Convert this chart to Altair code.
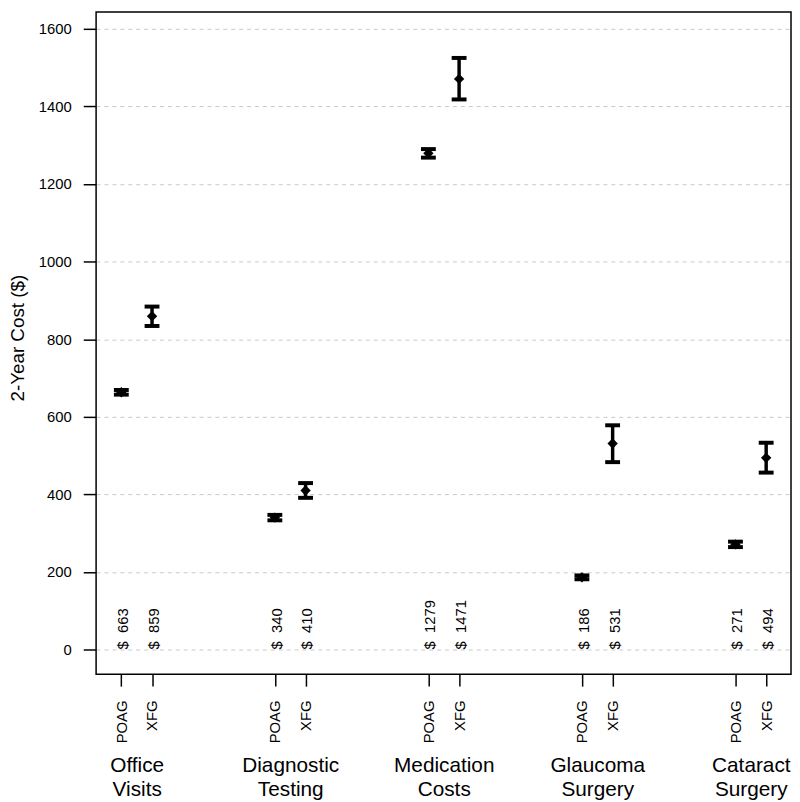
import altair as alt
import pandas as pd

# ---- data ----
groups = ["Office Visits", "Diagnostic Testing", "Medication Costs", "Glaucoma Surgery", "Cataract Surgery"]
series = ["POAG", "XFG"]

poag_mean = [663, 340, 1279, 186, 271]
poag_lo = [657, 333, 1268, 181, 264]
poag_hi = [669, 347, 1290, 191, 278]

xfg_mean = [859, 410, 1471, 531, 494]
xfg_lo = [834, 391, 1418, 483, 456]
xfg_hi = [884, 429, 1525, 578, 533]

y_ticks = [0, 200, 400, 600, 800, 1000, 1200, 1400, 1600]

# ---- build table ----
OFFSET = 0.1
rows = []
for i, g in enumerate(groups):
    gi = i + 1
    for s, m, lo, hi, off in [
        (series[0], poag_mean[i], poag_lo[i], poag_hi[i], -OFFSET),
        (series[1], xfg_mean[i], xfg_lo[i], xfg_hi[i], OFFSET),
    ]:
        rows.append({
            "group": g, "gi": gi, "series": s, "xpos": gi + off,
            "mean": m, "lo": lo, "hi": hi,
            "label": "$\u00a0\u00a0" + str(m),
        })
df = pd.DataFrame(rows)
gdf = pd.DataFrame({"gi": list(range(1, len(groups) + 1)), "group": groups})

FONT = "Liberation Sans"

xscale = alt.Scale(domain=[0.7357, 5.2618], nice=False, zero=False)
yscale = alt.Scale(domain=[-63.8, 1643.4], nice=False, zero=False)

series_expr = f"(datum.value - floor(datum.value)) > 0.5 ? '{series[0]}' : '{series[1]}'"
group_expr = ""
for i, g in enumerate(groups):
    group_expr += f"datum.value == {i + 1} ? split('{g}', ' ') : "
group_expr += "''"

xaxis = alt.Axis(
    values=list(df["xpos"]), labelExpr=series_expr, title=None,
    labelAngle=270, labelAlign="right", labelBaseline="middle",
    labelFontSize=15, labelFontWeight="normal", labelPadding=14,
    tickSize=12, tickWidth=1.5,
    tickColor="black", domain=False, grid=False, labelOverlap=False,
    labelFlush=False, orient="bottom",
)
gaxis = alt.Axis(
    values=list(gdf["gi"]), labelExpr=group_expr, title=None,
    labelAngle=0, labelAlign="center", labelBaseline="top",
    labelFontSize=21, labelLineHeight=24, labelPadding=81,
    ticks=False, tickSize=0, domain=False, grid=False,
    labelOverlap=False, labelFlush=False, orient="bottom",
)
yaxis = alt.Axis(
    values=y_ticks, format="d", title="2-Year Cost ($)", grid=True,
    gridDash=[4, 4], gridColor="#c8c8c8", gridWidth=1,
    domain=False, tickColor="black", tickSize=13, tickWidth=1.5,
    labelFontSize=15, labelPadding=12, titleFontSize=19,
    titleFontWeight="normal", titleX=-79, titleY=329,
    titleAngle=270, titleAlign="center", titleBaseline="middle",
)

x_main = alt.X("xpos:Q", scale=xscale, axis=xaxis)
x_plain = alt.X("xpos:Q", scale=xscale)

bars = alt.Chart(df).mark_rule(color="black", strokeWidth=3.5).encode(
    x=x_main, y=alt.Y("lo:Q", scale=yscale, axis=yaxis), y2="hi:Q"
)
cap_lo = alt.Chart(df).mark_tick(orient="horizontal", color="black", size=15, thickness=4, opacity=1).encode(
    x=x_plain, y=alt.Y("lo:Q", scale=yscale)
)
cap_hi = alt.Chart(df).mark_tick(orient="horizontal", color="black", size=15, thickness=4, opacity=1).encode(
    x=x_plain, y=alt.Y("hi:Q", scale=yscale)
)
points = alt.Chart(df).mark_point(shape="diamond", filled=True, color="black", size=110, opacity=1).encode(
    x=x_plain, y=alt.Y("mean:Q", scale=yscale)
)
labels = alt.Chart(df).mark_text(
    angle=270, align="left", baseline="middle", fontSize=15, font=FONT,
    color="black", dy=2,
).encode(x=x_plain, y=alt.datum(0, scale=yscale), text="label:N")

group_layer = alt.Chart(gdf).mark_point(opacity=0).encode(
    x=alt.X("gi:Q", scale=xscale, axis=gaxis)
)

main = alt.layer(bars, cap_lo, cap_hi, points, labels)

chart = (
    alt.layer(main, group_layer)
    .resolve_axis(x="independent")
    .properties(
        width=702, height=669,
        autosize=alt.AutoSizeParams(type="none"),
        padding={"left": 89, "top": 0, "right": 1, "bottom": 124},
    )
    .configure_view(stroke="black", strokeWidth=1.5)
    .configure_axis(labelFont=FONT, titleFont=FONT, labelColor="black", titleColor="black")
)

chart.save("out.html", embed_options={"renderer": "svg", "actions": False})
